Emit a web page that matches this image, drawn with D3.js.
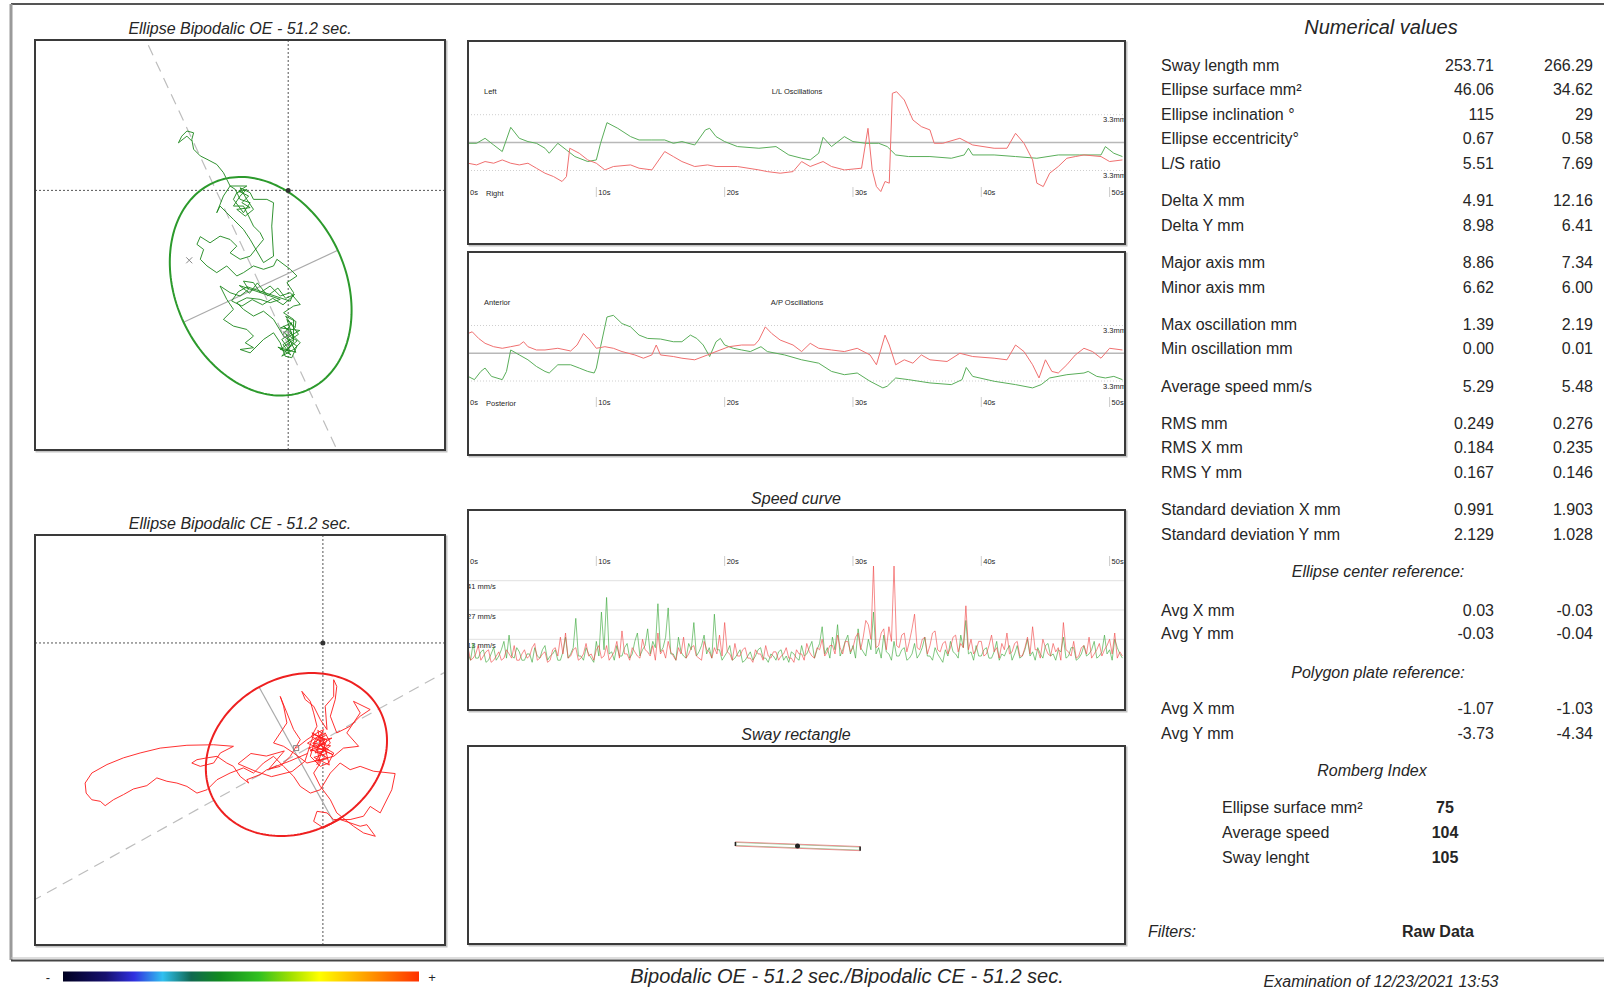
<!DOCTYPE html>
<html><head><meta charset="utf-8">
<script src="https://cdn.jsdelivr.net/npm/d3@7"></script>
<style>
html,body{margin:0;padding:0;background:#fff;}
svg{display:block;font-family:"Liberation Sans",Arial,sans-serif;}
</style></head><body>
<svg id="chart" width="1604" height="992"></svg>
<script>
// ---------------- DATA ----------------
const timeTicks = [0,10,20,30,40,50];
const timeLabels = ["0s","10s","20s","30s","40s","50s"];
const duration = 51.2;
const oscLimit = 3.3;
const speedGrid = [13,27,41];
const speedStep = 0.2;

const numLabels = ["Sway length mm","Ellipse surface mm²","Ellipse inclination °","Ellipse eccentricity°","L/S ratio",
  "Delta X mm","Delta Y mm","Major axis mm","Minor axis mm","Max oscillation mm","Min oscillation mm",
  "Average speed mm/s","RMS mm","RMS X mm","RMS Y mm","Standard deviation X mm","Standard deviation Y mm"];
const numGroups = [5,2,2,2,1,3,2];
const oeValues = ["253.71","46.06","115","0.67","5.51","4.91","8.98","8.86","6.62","1.39","0.00","5.29","0.249","0.184","0.167","0.991","2.129"];
const ceValues = ["266.29","34.62","29","0.58","7.69","12.16","6.41","7.34","6.00","2.19","0.01","5.48","0.276","0.235","0.146","1.903","1.028"];
const refLabels = ["Avg X mm","Avg Y mm"];
const centerRefOE = ["0.03","-0.03"];
const centerRefCE = ["-0.03","-0.04"];
const plateRefOE = ["-1.07","-3.73"];
const plateRefCE = ["-1.03","-4.34"];
const rombergLabels = ["Ellipse surface mm²","Average speed","Sway lenght"];
const rombergValues = ["75","104","105"];

// OE / CE sway paths (mm, origin = plate centre, y up)
const swayOE = [
[-0.08,-5.60],[0.08,-6.06],[-0.25,-6.45],[0.21,-6.19],[0.47,-5.93],[-0.05,-5.41],
[-0.18,-5.28],[0.14,-5.54],[-0.25,-5.80],[0.08,-6.25],[-0.31,-6.19],[0.21,-5.80],[-0.05,-5.02],[0.27,-5.34],
[0.3,-5.1],[-0.1,-4.9],[0.4,-5.6],[-0.2,-6.0],[0.1,-6.4],[-0.4,-6.1],[0.3,-6.3],[0.0,-5.7],[0.45,-5.45],[-0.3,-5.35],[0.15,-5.15],[-0.15,-5.55],[0.35,-5.85],[-0.05,-6.2],[0.2,-5.9],
[0.21,-5.02],[-0.18,-4.76],[0.21,-4.50],[0.47,-4.44],[0.08,-3.98],[-0.31,-4.11],[-0.70,-3.72],[-1.09,-3.98],[-1.35,-3.59],[-1.74,-3.53],[-1.54,-3.85],[-1.87,-4.11],[-2.26,-3.98],[-2.65,-3.72],[-2.39,-4.24],[-2.13,-4.63],[-2.52,-5.02],[-2.13,-5.28],[-1.61,-5.41],[-1.35,-5.67],[-1.67,-5.93],[-1.35,-6.12],[-1.87,-6.19],[-1.48,-6.32],[-0.96,-5.80],[-0.57,-5.54],[-0.31,-5.93],[-0.12,-6.45],[0.14,-6.51],[0.34,-6.06],[-0.18,-5.67],[-0.57,-5.02],[-0.96,-4.70],[-1.35,-4.89],[-1.74,-4.63],[-2.0,-4.37],[-1.61,-4.18],[-1.09,-4.24],[-0.70,-4.37],[-0.31,-4.24],
[-1.9,-3.7],[-1.5,-4.0],[-1.2,-3.6],[-0.8,-4.1],[-0.4,-3.8],[-0.1,-4.2],[0.25,-4.05],[-0.2,-4.45],[-0.6,-4.2],[-1.0,-4.45],[-1.4,-4.25],[-1.8,-4.5],[-2.2,-4.3],[-1.95,-3.95],[-1.6,-3.75],
[0.08,-4.31],[0.21,-3.98],[-0.05,-3.59],[0.34,-3.33],[0.08,-3.07],[-0.44,-2.68],[-0.57,-2.94],[-0.96,-3.07],[-1.35,-2.94],[-1.74,-3.20],[-2.0,-3.33],[-2.39,-2.94],[-2.78,-3.20],[-3.16,-2.94],[-3.42,-2.68],[-3.29,-2.30],[-3.55,-2.10],[-3.42,-1.80],[-3.04,-2.04],[-2.65,-1.78],[-2.26,-1.91],[-2.0,-2.17],[-2.26,-2.43],[-1.87,-2.68],[-1.48,-2.56],[-1.22,-2.23],[-0.96,-1.91],[-1.09,-1.65],[-1.35,-1.39],[-1.54,-1.00],[-1.74,-0.61],[-2.13,-0.61],[-1.87,-0.22],[-1.61,0.04],[-2.0,-0.09],[-2.13,-0.35],[-1.74,-0.87],[-1.48,-0.48],[-1.87,-0.35],[-2.06,0.04],[-2.26,0.17],[-1.61,0.17],
[-1.93,-0.03],[-1.54,-0.22],[-1.80,-0.48],[-1.48,-0.67],[-2.0,-0.74],[-1.67,-1.00],[-1.35,-0.74],[-1.61,-0.35],[-1.87,0.10],[-1.48,-0.09],
[-1.35,-0.35],[-0.83,-0.35],[-0.57,-0.48],[-0.64,-1.39],[-0.57,-2.56],[-0.96,-2.81],[-1.48,-1.91],[-1.74,-1.52],[-2.13,-1.13],[-2.39,-0.87],[-2.65,-0.61],[-2.78,-0.87],[-2.52,-0.22],[-2.26,0.17],[-2.52,0.69],[-2.78,1.01],[-3.16,1.21],[-3.42,1.34],[-3.68,1.60],[-3.75,1.98],[-3.68,2.24],[-3.94,2.31],[-4.14,2.11],[-4.27,1.85],[-3.94,2.11],[-3.75,1.92]
];
const swayCE = [
[-1.04,-4.09],[-0.62,-3.76],[-0.23,-3.50],[0.03,-3.37],[-0.36,-4.02],[-0.10,-4.28],[0.29,-3.89],[0.09,-3.50],[-0.30,-3.76],[-0.49,-4.41],[-0.10,-4.80],[0.22,-4.67],[0.42,-4.28],[-0.04,-4.02],
[-0.2,-3.4],[0.1,-3.6],[-0.4,-3.9],[0.3,-4.0],[-0.1,-4.3],[0.2,-4.5],[-0.3,-4.6],[0.05,-4.1],[-0.5,-4.2],[0.35,-3.7],[-0.15,-3.8],[0.15,-4.3],[-0.35,-4.45],[0.25,-4.75],[-0.05,-3.55],[-0.6,-3.9],[0.4,-4.35],[-0.25,-4.05],[0.1,-3.9],[-0.45,-3.65],
[-0.23,-3.24],[-0.36,-2.72],[-0.49,-2.27],[-0.82,-1.88],[-0.69,-2.20],[-0.36,-2.46],[-0.10,-2.98],[0.16,-3.37],[0.09,-2.46],[0.42,-2.08],[0.42,-1.43],[0.54,-1.69],[0.48,-2.20],[0.29,-2.85],[0.54,-3.50],[1.06,-3.24],[1.45,-2.85],[1.84,-2.59],[1.19,-2.27],[1.45,-2.72],[0.93,-3.50],[1.39,-4.02],[0.80,-4.09],[0.42,-4.41],[-0.10,-4.54],[-0.62,-4.67],[-1.14,-4.28],[-1.53,-4.02],[-1.92,-3.89],[-1.66,-3.50],[-1.40,-3.11],[-1.53,-2.46],[-1.66,-2.08],[-1.40,-2.72],[-1.14,-3.37],[-0.88,-3.76],[-1.27,-4.41],[-1.66,-4.80],[-2.18,-4.93],[-2.44,-5.12],[-2.96,-5.32],[-2.89,-5.45],[-3.22,-5.19],[-3.48,-4.80],[-3.74,-4.67],[-4.12,-4.41],[-4.51,-4.47],[-4.90,-4.54],[-5.10,-4.67],[-4.77,-4.80],[-4.25,-4.67],[-3.99,-4.28],[-3.48,-4.02],[-4.25,-3.96],[-5.29,-3.98],[-6.33,-4.09],[-7.11,-4.28],[-7.76,-4.47],[-8.40,-4.73],[-8.99,-5.06],[-9.25,-5.45],[-9.21,-5.84],[-8.99,-6.10],[-8.66,-6.16],[-8.47,-6.33],[-8.15,-6.10],[-7.76,-5.90],[-7.37,-5.68],[-6.85,-5.55],[-6.46,-5.25],[-6.07,-5.38],[-5.68,-5.45],[-5.29,-5.58],[-4.90,-5.84],[-4.51,-5.71],[-4.12,-5.32],[-3.61,-5.06],[-3.09,-4.86],[-2.70,-5.06],[-2.31,-4.67],[-1.92,-4.41],[-1.53,-4.80],[-1.14,-5.19],[-0.88,-5.58],[-0.49,-5.84],[-0.10,-5.71],[0.29,-5.06],[0.67,-4.67],[1.06,-4.93],[1.45,-4.80],[1.97,-4.99],[2.81,-5.08],[2.68,-5.71],[2.23,-6.61],[1.84,-6.36],[1.58,-6.74],[1.06,-6.87],[0.42,-6.87],[0.16,-6.61],[-0.23,-6.55],[-0.36,-6.94],[0.03,-7.20],[0.67,-6.87],[1.45,-7.13],[1.71,-7.07],[2.04,-7.52],[1.58,-7.39],[1.19,-7.13],[0.54,-6.61],[0.29,-6.10],[-0.10,-5.58],[-0.36,-5.06],[-0.10,-4.67],[-0.23,-4.15],[0.09,-3.76],[-0.17,-3.63],
[-0.43,-3.50],[-0.04,-3.70],[-0.30,-4.28],[0.22,-4.15],[-0.17,-3.96],[-0.56,-4.09],[0.09,-4.41],[-0.23,-4.73],[0.16,-3.76],[-0.36,-3.56],
[-0.7,-4.6],[-1.2,-5.0],[-2.0,-5.2],[-2.6,-5.0],[-3.3,-4.7],[-2.8,-4.3],[-2.2,-4.4],[-1.5,-4.2],[-2.1,-4.9],[-1.3,-4.6],[-0.6,-4.3]
];
const markerOE = [-3.85,-2.72];

// L/L and A/P oscillations: [time s, mm]
const llGreen = [[0,-0.08],[0.67,-0.08],[1.33,0.51],[2.0,-0.28],[2.67,-1.06],[3.33,1.81],[4.0,0.51],[4.67,0.12],[5.33,-0.08],[6.0,-0.67],[6.33,-1.26],[7.0,-0.08],[7.67,-0.87],[8.33,-1.65],[9.33,-2.24],[10.0,-2.05],[10.33,-0.08],[10.83,2.36],[11.67,1.69],[12.67,0.71],[13.33,0.31],[14.33,0.31],[15.33,0.31],[16.0,-0.08],[16.67,0.12],[17.67,-0.28],[18.5,1.5],[18.83,1.69],[19.33,0.71],[20.0,0.12],[21.0,-0.47],[22.67,-0.67],[24.0,-0.47],[25.0,-1.46],[26.0,-1.85],[26.67,-2.05],[27.33,-1.26],[27.67,0.63],[28.33,-0.47],[29.33,0.71],[30.0,0.12],[31.0,-0.08],[32.0,-0.08],[32.67,-0.47],[33.33,-1.46],[34.33,-1.65],[36.0,-1.65],[37.67,-1.85],[38.67,-1.46],[39.0,-0.67],[39.33,-1.46],[41.0,-1.46],[42.67,-1.65],[44.33,-1.85],[46.0,-1.46],[47.67,-1.46],[49.33,-1.46],[49.67,-0.47],[50.33,-1.26],[51.0,-1.65]];
const llRed = [[0,-2.44],[0.67,-2.64],[1.33,-2.24],[2.0,-2.44],[2.67,-2.05],[3.33,-2.44],[4.0,-2.64],[4.67,-2.44],[5.33,-3.03],[6.0,-3.62],[6.67,-4.02],[7.33,-4.6],[7.67,-4.02],[7.93,-0.67],[8.67,-1.26],[9.33,-2.05],[10.0,-2.44],[10.67,-3.23],[11.33,-2.83],[12.67,-2.64],[13.33,-3.03],[14.33,-3.23],[15.33,-1.06],[16.0,-1.65],[16.67,-2.24],[17.67,-2.83],[18.67,-2.64],[19.33,-2.83],[21.0,-2.83],[22.67,-3.23],[23.33,-3.43],[24.33,-3.62],[25.33,-3.43],[26.0,-2.24],[26.67,-2.83],[27.67,-2.24],[28.33,-2.83],[29.33,-3.23],[30.67,-3.03],[31.17,1.69],[31.5,-3.23],[31.83,-5.2],[32.17,-5.79],[32.5,-4.6],[32.83,-4.8],[33.07,5.83],[33.4,6.02],[34.0,5.04],[34.67,2.68],[35.33,1.89],[36.0,1.5],[36.33,-0.08],[37.0,-0.08],[38.33,0.51],[39.33,-0.28],[41.0,-0.67],[42.0,-0.67],[42.67,1.1],[43.33,-0.08],[44.0,-2.05],[44.33,-4.8],[44.83,-5.2],[45.33,-3.62],[46.0,-2.83],[46.67,-1.85],[47.33,-1.65],[48.0,-1.46],[49.33,-1.65],[50.0,-2.24],[51.0,-2.05]];
const apGreen = [[0,-2.75],[0.5,-3.14],[1.0,-2.16],[1.33,-1.76],[1.83,-2.75],[2.67,-3.14],[3.0,-2.16],[3.33,0.39],[4.0,-0.2],[4.67,-0.78],[5.33,-1.57],[6.0,-2.16],[6.33,-2.35],[7.0,-1.37],[8.0,-1.37],[8.67,-1.76],[9.33,-2.16],[9.83,-2.35],[10.0,-1.76],[10.33,0.78],[10.83,4.31],[11.33,4.51],[12.0,3.53],[12.67,3.14],[13.33,2.16],[14.0,1.76],[15.0,1.69],[16.0,1.37],[16.67,1.37],[17.33,2.16],[17.83,1.76],[18.33,0.98],[18.83,-0.39],[19.33,1.37],[19.67,1.76],[20.0,0.98],[20.67,0.59],[21.33,0.39],[22.0,0.2],[22.83,0.78],[23.33,0.2],[24.67,-0.2],[26.0,-0.78],[27.33,-1.18],[28.33,-2.16],[29.33,-2.55],[30.33,-2.35],[31.33,-3.33],[32.33,-4.12],[32.67,-3.92],[33.33,-2.94],[34.33,-3.14],[36.0,-3.53],[37.67,-3.73],[38.5,-3.14],[38.83,-1.69],[39.33,-2.75],[41.0,-3.33],[42.67,-3.73],[44.0,-4.12],[44.67,-3.73],[45.33,-2.94],[46.67,-2.55],[48.0,-2.35],[48.33,-2.16],[49.0,-2.75],[49.67,-2.94],[50.33,-2.75],[51.0,-3.14]];
const apRed = [[0,2.35],[0.33,2.55],[0.83,1.76],[1.33,1.18],[2.0,0.78],[2.67,0.59],[3.33,0.78],[4.0,0.98],[4.33,1.37],[4.67,0.78],[5.33,0.39],[6.0,0.39],[7.0,0.59],[8.0,0.27],[8.5,0.98],[9.0,2.35],[9.5,1.57],[10.0,0.59],[10.67,0.78],[11.33,0.59],[12.0,0.2],[13.0,-0.2],[13.67,-0.59],[14.33,-0.2],[14.67,0.98],[15.0,-0.2],[16.0,-0.39],[16.67,-0.59],[17.67,-0.78],[18.67,-0.2],[19.33,0.2],[20.33,0.78],[21.33,0.98],[22.33,0.98],[22.67,1.57],[23.17,3.14],[23.67,2.35],[24.33,1.57],[25.33,0.98],[26.0,0.2],[26.67,1.18],[27.33,0.59],[28.33,0.39],[29.33,0.2],[30.33,0.59],[31.33,-0.2],[31.83,-1.37],[32.5,2.16],[32.83,0.98],[33.33,-1.37],[34.0,-0.78],[34.67,-1.18],[35.33,-0.2],[36.0,-0.78],[37.33,-0.98],[38.33,0],[39.33,-0.39],[41.0,-0.59],[42.0,-0.78],[42.67,0.98],[43.33,0.2],[44.0,-1.37],[44.5,-2.94],[45.0,-0.78],[45.5,-2.16],[46.0,-2.35],[46.67,-1.37],[47.33,-0.2],[48.0,0.59],[48.67,0.2],[49.33,-0.59],[50.0,0.59],[51.0,0.39]];

// speed (mm/s), one value every speedStep seconds
const speedGreen = [
6,3,11,4,4,7,8,2,3,6,9,3,5,8,12,4,15,5,4,9,
7,3,3,6,6,2,9,5,4,8,10,3,5,6,8,3,3,7,14,4,
6,9,23,5,5,3,9,6,4,2,12,5,26,8,33,6,7,3,10,5,
5,9,11,4,6,12,16,5,8,10,18,6,12,9,30,7,9,14,28,6,
6,3,14,7,5,4,11,8,21,5,7,10,15,6,9,4,25,8,8,3,
5,7,10,3,4,6,8,2,3,5,7,3,5,8,9,4,4,2,6,5,
3,7,8,3,5,2,7,6,4,3,10,5,6,9,12,4,8,11,19,6,
9,4,14,8,20,5,8,12,15,6,10,4,18,9,7,5,13,8,26,6,
9,4,15,7,6,3,12,5,5,8,9,3,4,6,11,4,6,9,14,5,
5,3,9,6,4,2,8,5,12,7,6,4,15,9,22,6,7,3,10,5,
5,8,9,4,4,7,12,3,6,5,8,10,3,6,10,4,5,8,13,5,
7,3,9,6,4,10,11,5,6,3,8,7,14,4,5,9,9,3,4,6,
10,5,6,8,12,4,5,7,15,6,8,3,13,9,6,4];
const speedRed = [
9,3,4,6,10,3,5,7,8,2,3,5,7,3,4,8,6,4,10,3,
3,6,8,4,5,9,11,3,4,6,7,2,3,8,9,5,14,6,16,4,
5,8,9,3,4,6,11,5,6,3,8,10,4,5,10,3,5,7,12,4,
17,6,6,3,9,7,5,4,13,8,7,5,10,3,16,6,8,4,12,7,
5,3,9,6,14,4,6,9,10,5,4,3,12,8,7,4,9,6,15,5,
21,7,6,3,11,5,5,8,9,4,4,2,8,6,6,3,10,5,4,7,
7,3,5,6,9,4,4,2,8,6,6,3,11,7,5,4,9,8,13,5,
7,10,10,6,15,9,6,12,12,7,9,14,16,8,14,22,20,13,48,9,
10,16,18,8,19,12,48,10,9,15,16,7,12,18,25,9,8,13,14,6,
10,16,17,8,7,11,12,6,9,14,15,7,11,9,29,8,13,6,8,12,
12,5,6,10,15,7,9,4,11,8,16,6,7,11,12,5,5,9,14,6,
19,8,8,4,13,9,6,5,11,7,9,3,21,8,7,5,12,4,5,9,
10,6,14,4,6,8,11,5,8,10,13,6,16,4,7,5];

// sway rectangle (mm)
const swayRectCE = [[-2.38,0.12],[2.48,-0.06],[2.48,-0.22],[-2.38,-0.04]];
const swayRectOE = [[-2.36,0.10],[2.46,-0.08],[2.46,-0.20],[-2.36,-0.02]];
const swayRectCenter = [0.04,-0.04];

const colorStops = [[0,"#000020"],[0.12,"#16106e"],[0.2,"#3030e0"],[0.28,"#30c0f0"],[0.36,"#106850"],[0.44,"#108a20"],[0.55,"#30c020"],[0.64,"#a0e000"],[0.72,"#ffff00"],[0.85,"#ffa000"],[1,"#ff3000"]];

// numeric values used by drawings
const majorAxis = [+oeValues[7], +ceValues[7]];
const minorAxis = [+oeValues[8], +ceValues[8]];
const inclination = [+oeValues[2], +ceValues[2]];
const plateAvgX = [+plateRefOE[0], +plateRefCE[0]];
const plateAvgY = [+plateRefOE[1], +plateRefCE[1]];

// ---------------- DRAWING ----------------
const svg = d3.select("#chart");
const defs = svg.append("defs");
const TXT = "#262626";
function clip(id,x,y,w,h){defs.append("clipPath").attr("id",id).append("rect").attr("x",x).attr("y",y).attr("width",w).attr("height",h);}
function label(g,x,y,s,size,o={}){
  const t=g.append("text").attr("x",x).attr("y",y).attr("dy","0.35em").attr("font-size",size).attr("fill",o.fill||TXT).text(s);
  if(o.anchor) t.attr("text-anchor",o.anchor);
  if(o.italic) t.attr("font-style","italic");
  if(o.bold) t.attr("font-weight","bold");
  return t;
}
function box(x,y,w,h){
  svg.append("rect").attr("x",x+1.5).attr("y",y+1.5).attr("width",w).attr("height",h).attr("fill","none").attr("stroke","#c4c4c4").attr("stroke-width",2);
  svg.append("rect").attr("x",x).attr("y",y).attr("width",w).attr("height",h).attr("fill","#fff").attr("stroke","#3a3a3a").attr("stroke-width",2);
}

// frame
svg.append("line").attr("x1",11).attr("x2",1604).attr("y1",4).attr("y2",4).attr("stroke","#555").attr("stroke-width",2);
svg.append("line").attr("x1",11).attr("x2",11).attr("y1",4).attr("y2",960).attr("stroke","#9a9a9a").attr("stroke-width",3);
svg.append("line").attr("x1",11).attr("x2",1604).attr("y1",958).attr("y2",958).attr("stroke","#bbb").attr("stroke-width",1);
svg.append("line").attr("x1",11).attr("x2",1604).attr("y1",960.5).attr("y2",960.5).attr("stroke","#444").attr("stroke-width",2);

// ellipse panels
function ellipsePanel(k,bx,by,size,xDom,yDom,trace,ellColor,traceColor,titleText,titleY,id){
  box(bx,by,size,size);
  label(svg,bx+size/2,titleY,titleText,16,{anchor:"middle",italic:true});
  clip(id,bx+1,by+1,size-2,size-2);
  const x=d3.scaleLinear().domain(xDom).range([bx,bx+size]);
  const y=d3.scaleLinear().domain(yDom).range([by+size,by]);
  const g=svg.append("g").attr("clip-path",`url(#${id})`);
  const phi=inclination[k]*Math.PI/180, cx=plateAvgX[k], cy=plateAvgY[k], a=majorAxis[k]/2, b=minorAxis[k]/2;
  const c=Math.cos(phi), s=Math.sin(phi);
  g.append("line").attr("x1",x(cx-30*c)).attr("y1",y(cy-30*s)).attr("x2",x(cx+30*c)).attr("y2",y(cy+30*s))
    .attr("stroke","#bdbdbd").attr("stroke-width",1.2).attr("stroke-dasharray","11,7");
  g.append("line").attr("x1",x(0)).attr("x2",x(0)).attr("y1",by).attr("y2",by+size).attr("stroke","#555").attr("stroke-dasharray","2,2");
  g.append("line").attr("y1",y(0)).attr("y2",y(0)).attr("x1",bx).attr("x2",bx+size).attr("stroke","#555").attr("stroke-dasharray","2,2");
  g.append("line").attr("x1",x(cx-b*s)).attr("y1",y(cy+b*c)).attr("x2",x(cx+b*s)).attr("y2",y(cy-b*c)).attr("stroke","#aaa").attr("stroke-width",1.2);
  const line=d3.line().x(d=>x(d[0])).y(d=>y(d[1]));
  g.append("path").attr("d",line(trace)).attr("fill","none").attr("stroke",traceColor).attr("stroke-width",0.9).attr("stroke-linejoin","round");
  const pts=d3.range(0,361,2).map(deg=>{const t=deg*Math.PI/180;
    return [cx+a*Math.cos(t)*c-b*Math.sin(t)*s, cy+a*Math.cos(t)*s+b*Math.sin(t)*c];});
  g.append("path").attr("d",line(pts)).attr("fill","none").attr("stroke",ellColor).attr("stroke-width",2);
  g.append("circle").attr("cx",x(0)).attr("cy",y(0)).attr("r",2.5).attr("fill","#333");
  g.append("rect").attr("x",x(trace[0][0])-2.5).attr("y",y(trace[0][1])-2.5).attr("width",5).attr("height",5).attr("fill","none").attr("stroke","#888");
  return {x,y,g};
}
const oe=ellipsePanel(0,35,40,410,[-9.85,6.1],[-10.1,5.85],swayOE,"#2c9a2c","#1a861a","Ellipse Bipodalic OE - 51.2 sec.",28,"clipOE");
oe.g.append("path").attr("d",`M${oe.x(markerOE[0])-3},${oe.y(markerOE[1])-3}l6,6m0,-6l-6,6`).attr("stroke","#888").attr("stroke-width",1);
ellipsePanel(1,35,535,410,[-11.2,4.75],[-11.75,4.2],swayCE,"#ee2020","#ff1a1a","Ellipse Bipodalic CE - 51.2 sec.",523,"clipCE");

// time axis
const tx=d3.scaleLinear().domain([0,duration]).range([468,1125]);
function timeTicksDraw(g,ty){
  timeTicks.forEach((t,i)=>{
    g.append("line").attr("x1",tx(t)).attr("x2",tx(t)).attr("y1",ty-5).attr("y2",ty+5).attr("stroke","#ccc");
    label(g,tx(t)+2,ty,timeLabels[i],7.5);
  });
}

// oscillation panels
function oscPanel(by,h,yRange,green,red,topL,midL,botL,labY,tickY,id){
  box(468,by,657,h);
  clip(id,469,by+1,655,h-2);
  const g=svg.append("g").attr("clip-path",`url(#${id})`);
  const y=d3.scaleLinear().domain([-oscLimit,oscLimit]).range(yRange);
  [-oscLimit,oscLimit].forEach(v=>{
    g.append("line").attr("x1",468).attr("x2",1125).attr("y1",y(v)).attr("y2",y(v)).attr("stroke","#cfcfcf").attr("stroke-dasharray","1,2");
    label(g,1103,y(v)+5,oscLimit+"mm",7.5);
  });
  g.append("line").attr("x1",468).attr("x2",1125).attr("y1",y(0)).attr("y2",y(0)).attr("stroke","#b8b8b8").attr("stroke-width",1.5);
  label(g,484,labY,topL,7.5);
  label(g,797,labY,midL,7.5,{anchor:"middle"});
  timeTicksDraw(g,tickY);
  label(g,486,tickY+1,botL,7.5);
  const line=d3.line().x(d=>tx(d[0])).y(d=>y(d[1]));
  g.append("path").attr("d",line(green)).attr("fill","none").attr("stroke","#5aae5a").attr("stroke-width",1);
  g.append("path").attr("d",line(red)).attr("fill","none").attr("stroke","#f07070").attr("stroke-width",1);
}
oscPanel(41,203,[170.5,114.7],llGreen,llRed,"Left","L/L Oscillations","Right",91,192,"clipLL");
oscPanel(252,203,[381,325.5],apGreen,apRed,"Anterior","A/P Oscillations","Posterior",302,402,"clipAP");

// speed panel
box(468,510,657,200);
label(svg,796,498,"Speed curve",16,{anchor:"middle",italic:true});
clip("clipSP",469,511,655,198);
{
  const g=svg.append("g").attr("clip-path","url(#clipSP)");
  const y=d3.scaleLinear().domain([0,41]).range([666.5,580.7]);
  speedGrid.forEach(v=>{
    g.append("line").attr("x1",468).attr("x2",1125).attr("y1",y(v)).attr("y2",y(v)).attr("stroke","#e0e0e0");
    label(g,467,y(v)+6,v+" mm/s",7.5);
  });
  timeTicksDraw(g,561);
  const line=d3.line().x((d,i)=>tx(i*speedStep)).y(d=>y(d));
  g.append("path").attr("d",line(speedGreen)).attr("fill","none").attr("stroke","#3aa83a").attr("stroke-opacity",0.7).attr("stroke-width",0.9);
  g.append("path").attr("d",line(speedRed)).attr("fill","none").attr("stroke","#f04848").attr("stroke-opacity",0.7).attr("stroke-width",0.9);
}

// sway rectangle panel
box(468,746,657,198);
label(svg,796,734,"Sway rectangle",16,{anchor:"middle",italic:true});
{
  const x=d3.scaleLinear().domain([-12.8,12.8]).range([468,1125]);
  const y=d3.scaleLinear().domain([-3.85,3.85]).range([944,746]);
  const poly=d3.line().x(d=>x(d[0])).y(d=>y(d[1])).curve(d3.curveLinearClosed);
  svg.append("path").attr("d",poly(swayRectOE)).attr("fill","none").attr("stroke","#9ccf9c").attr("stroke-width",1);
  svg.append("path").attr("d",poly(swayRectCE)).attr("fill","none").attr("stroke","#e89090").attr("stroke-width",1);
  [[swayRectCE[0],swayRectCE[3]],[swayRectCE[1],swayRectCE[2]]].forEach(p=>{
    svg.append("line").attr("x1",x(p[0][0])).attr("x2",x(p[1][0])).attr("y1",y(p[0][1])).attr("y2",y(p[1][1])).attr("stroke","#222").attr("stroke-width",1.5);
  });
  svg.append("circle").attr("cx",x(swayRectCenter[0])).attr("cy",y(swayRectCenter[1])).attr("r",2.5).attr("fill","#222");
}

// numerical values
label(svg,1381,27,"Numerical values",20,{anchor:"middle",italic:true});
{
  let yy=65, idx=0;
  numGroups.forEach(n=>{
    for(let r=0;r<n;r++){
      label(svg,1161,yy,numLabels[idx],16);
      label(svg,1494,yy,oeValues[idx],16,{anchor:"end"});
      label(svg,1593,yy,ceValues[idx],16,{anchor:"end"});
      idx++; yy+=24.6;
    }
    yy+=12.6;
  });
}
label(svg,1378,571,"Ellipse center reference:",16,{anchor:"middle",italic:true});
refLabels.forEach((l,i)=>{
  const yy=610+i*23.5;
  label(svg,1161,yy,l,16);
  label(svg,1494,yy,centerRefOE[i],16,{anchor:"end"});
  label(svg,1593,yy,centerRefCE[i],16,{anchor:"end"});
});
label(svg,1378,672,"Polygon plate reference:",16,{anchor:"middle",italic:true});
refLabels.forEach((l,i)=>{
  const yy=708.5+i*24.8;
  label(svg,1161,yy,l,16);
  label(svg,1494,yy,plateRefOE[i],16,{anchor:"end"});
  label(svg,1593,yy,plateRefCE[i],16,{anchor:"end"});
});
label(svg,1372,770,"Romberg Index",16,{anchor:"middle",italic:true});
rombergLabels.forEach((l,i)=>{
  const yy=807+i*25;
  label(svg,1222,yy,l,16);
  label(svg,1445,yy,rombergValues[i],16,{anchor:"middle",bold:true});
});
label(svg,1148,931,"Filters:",16,{italic:true});
label(svg,1438,931,"Raw Data",16,{anchor:"middle",bold:true});

// bottom bar
{
  const grad=defs.append("linearGradient").attr("id","cbar");
  colorStops.forEach(s=>grad.append("stop").attr("offset",s[0]).attr("stop-color",s[1]));
  svg.append("rect").attr("x",63).attr("y",971.5).attr("width",356).attr("height",10).attr("fill","url(#cbar)");
  label(svg,48,977,"-",13,{anchor:"middle"});
  label(svg,432,977,"+",13,{anchor:"middle"});
  label(svg,847,976,"Bipodalic OE - 51.2 sec./Bipodalic CE - 51.2 sec.",20,{anchor:"middle",italic:true});
  label(svg,1381,981,"Examination of 12/23/2021 13:53",16,{anchor:"middle",italic:true});
}
</script>
</body></html>
